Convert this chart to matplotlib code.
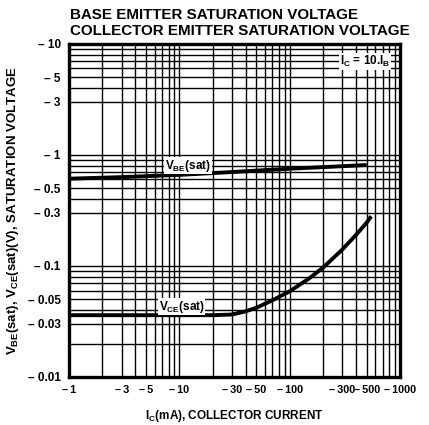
import numpy as np
import matplotlib
matplotlib.use("Agg")
import matplotlib.pyplot as plt
from matplotlib.ticker import FixedLocator, LogLocator, NullFormatter

plt.rcParams['font.family'] = ['Liberation Sans', 'DejaVu Sans']
plt.rcParams['mathtext.fontset'] = 'custom'
plt.rcParams['mathtext.rm'] = 'Liberation Sans:bold'
plt.rcParams['mathtext.bf'] = 'Liberation Sans:bold'
plt.rcParams['mathtext.it'] = 'Liberation Sans:bold'

# data (magnitudes; axis labels carry the minus sign)
ic_vbe = [1, 3, 10, 30, 100, 300, 500]
vbe_sat = [0.61, 0.63, 0.66, 0.70, 0.75, 0.79, 0.81]

ic_vce = [1, 5, 10, 20, 30, 40, 50, 70, 100, 150, 200, 300, 400, 500, 550]
vce_sat = [0.036, 0.036, 0.036, 0.036, 0.0365, 0.039, 0.042, 0.049, 0.059, 0.077, 0.096, 0.14, 0.19, 0.245, 0.28]

x_ticks = [1, 3, 5, 10, 30, 50, 100, 300, 500, 1000]
y_ticks = [0.01, 0.03, 0.05, 0.1, 0.3, 0.5, 1, 3, 5, 10]
# horizontal rulings printed on the original sheet (no line at 0.2 and 2)
y_rulings = [0.02, 0.04, 0.06, 0.07, 0.08, 0.09,
             0.4, 0.6, 0.7, 0.8, 0.9,
             4, 6, 7, 8, 9]

fig = plt.figure(figsize=(4.29, 4.25), dpi=100)
ax = fig.add_axes([0.161, 0.113, 0.771, 0.784])
ax.set_xscale('log')
ax.set_yscale('log')
ax.set_xlim(1, 1000)
ax.set_ylim(0.01, 10)

ax.plot(ic_vbe, vbe_sat, color='black', lw=2.8, solid_capstyle='butt', zorder=3)
ax.plot(ic_vce, vce_sat, color='black', lw=2.8, solid_capstyle='butt', zorder=3)

ax.xaxis.set_minor_locator(LogLocator(base=10, subs=np.arange(2, 10)))
ax.yaxis.set_minor_locator(FixedLocator(y_rulings))
ax.xaxis.set_minor_formatter(NullFormatter())
ax.yaxis.set_minor_formatter(NullFormatter())
ax.grid(True, which='both', color='black', lw=1.0)
ax.set_axisbelow(True)

ax.set_xticks(x_ticks)
ax.set_xticklabels(['\u2013\u2009%g' % v for v in x_ticks], fontsize=7.8, fontweight='bold')
ax.set_yticks(y_ticks)
ax.set_yticklabels(['\u2013 %g' % v for v in y_ticks], fontsize=8.5, fontweight='bold')
ax.tick_params(which='both', length=0, pad=6)

for s in ax.spines.values():
    s.set_linewidth(2.4)

bbox = dict(facecolor='white', edgecolor='none', pad=0.5)
ax.text(12, 0.80, r'V$_{\mathrm{BE}}$(sat)', fontsize=8.5, fontweight='bold',
        ha='center', va='center', bbox=bbox, zorder=4)
ax.text(10.5, 0.043, r'V$_{\mathrm{CE}}$(sat)', fontsize=8.5, fontweight='bold',
        ha='center', va='center', bbox=bbox, zorder=4)
ax.text(480, 6.9, r'I$_{\mathrm{C}}$ = 10.I$_{\mathrm{B}}$', fontsize=8.5, fontweight='bold',
        ha='center', va='center', bbox=bbox, zorder=4)

ax.set_xlabel(r'I$_{\mathrm{C}}$(mA), COLLECTOR CURRENT', fontsize=8.5, fontweight='bold', labelpad=9)
ax.set_ylabel(r'V$_{\mathrm{BE}}$(sat), V$_{\mathrm{CE}}$(sat)(V), SATURATION VOLTAGE',
              fontsize=9.5, fontweight='bold', labelpad=5)

fig.text(0.163, 0.965, 'BASE EMITTER SATURATION VOLTAGE', fontsize=10.9, fontweight='bold', va='center')
fig.text(0.163, 0.928, 'COLLECTOR EMITTER SATURATION VOLTAGE', fontsize=10.9, fontweight='bold', va='center')

fig.savefig('out.png', dpi=100)
